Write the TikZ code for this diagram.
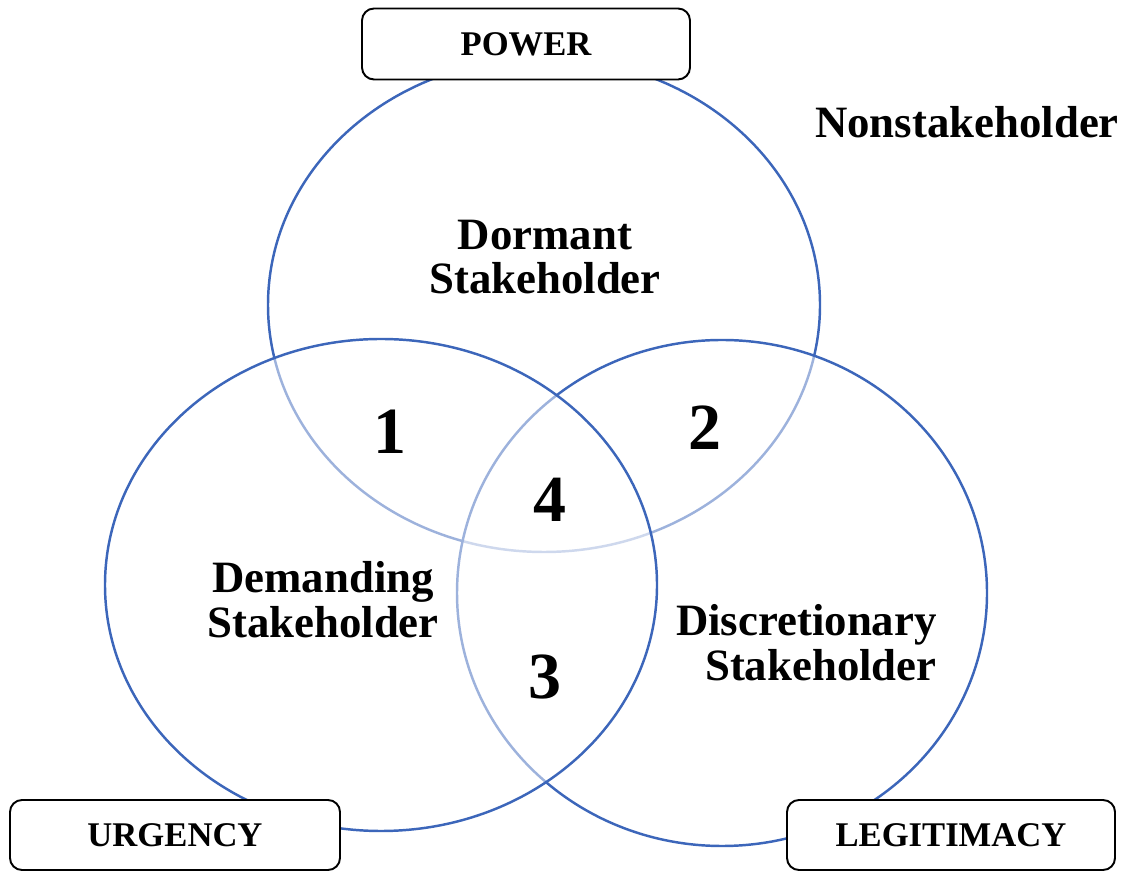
\documentclass[tikz,border=0pt]{standalone}
\usepackage{fontspec}
\setmainfont{Liberation Serif}
\definecolor{ringblue}{RGB}{60,102,186}
\tikzset{
  ring/.style={draw=ringblue, line width=1.4pt},
  veil/.style={ring, fill=white, fill opacity=0.5},
  attrbox/.style={draw=black, line width=1.1pt, fill=white, rounded corners=0.24cm,
    minimum width=6.56cm, minimum height=1.42cm, inner sep=0pt,
    font=\fontsize{19.7}{20}\selectfont\bfseries},
  classlabel/.style={align=center, inner sep=0pt, font=\fontsize{25.5}{25.5}\selectfont\bfseries},
  zonenum/.style={inner sep=0pt, font=\fontsize{37.5}{38}\selectfont\bfseries}
}
\begin{document}
\begin{tikzpicture}
\useasboundingbox (0,0) rectangle (22.58,17.5);
% drei Attribute als Ellipsen, die spaeteren halb deckend weiss gefuellt
\draw[ring] (10.88,11.40) ellipse (5.52 and 4.94);
\draw[veil] (14.44,5.64) ellipse (5.30 and 5.06);
\draw[veil] (7.62,5.80) ellipse (5.52 and 4.92);
% Kaesten mit den Attributen
\node[attrbox] (power) at (10.52,16.62) {POWER};
\node[attrbox, minimum width=6.60cm, minimum height=1.40cm] (urgency) at (3.50,0.80) {URGENCY};
\node[attrbox, minimum height=1.40cm] (legitimacy) at (19.02,0.80) {LEGITIMACY};
% Klassen
\node[classlabel] (dormant) at (10.90,12.36) {Dormant\\Stakeholder};
\node[classlabel] (demanding) at (6.46,5.50) {Demanding\\Stakeholder};
\node[classlabel, align=right, anchor=east] (discretionary) at (18.74,4.64) {Discretionary\\Stakeholder};
\node[classlabel] (nonstake) at (19.34,15.06) {Nonstakeholder};
% Schnittflaechen
\node[zonenum] (zone1) at (7.80,8.86) {1};
\node[zonenum] (zone2) at (14.10,8.94) {2};
\node[zonenum] (zone4) at (11.00,7.50) {4};
\node[zonenum] (zone3) at (10.90,3.96) {3};
\end{tikzpicture}
\end{document}
